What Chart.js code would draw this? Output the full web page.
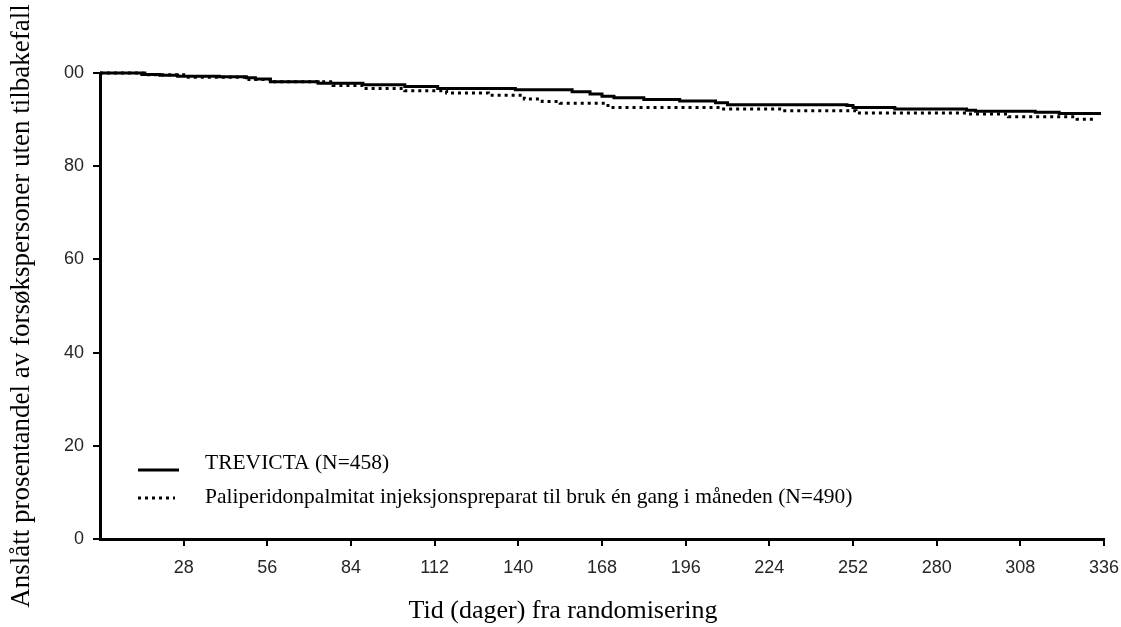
<!DOCTYPE html>
<html lang="no">
<head>
  <meta charset="UTF-8">
  <title>Tid til tilbakefall</title>
  <script src="https://cdn.jsdelivr.net/npm/chart.js"></script>
  <style>
    body { margin: 0; background: #fff; }
    canvas { display: block; }
  </style>
</head>
<body>
  <canvas id="kmChart" width="1121" height="627"></canvas>
  <script>
    // Serier (Kaplan-Meier, lest av figuren)
    const seriesLabels = [
      "TREVICTA (N=458)",
      "Paliperidonpalmitat injeksjonspreparat til bruk én gang i måneden (N=490)"
    ];

    const trevictaDays = [0, 14, 20, 26, 40, 49, 52, 57, 73, 88, 102, 113, 139, 158, 164, 168, 172, 182, 194, 206, 210, 250, 252, 266, 290, 293, 313, 321, 335];
    const trevictaPct  = [100, 99.7, 99.5, 99.3, 99.2, 99.0, 98.7, 98.1, 97.8, 97.5, 97.1, 96.7, 96.4, 96.0, 95.5, 95.0, 94.7, 94.3, 94.0, 93.6, 93.2, 93.0, 92.6, 92.3, 92.0, 91.8, 91.6, 91.3, 91.3];

    const paliDays = [0, 15, 28, 49, 57, 78, 88, 102, 116, 130, 142, 148, 154, 170, 208, 228, 253, 290, 304, 327, 333];
    const paliPct  = [100, 99.6, 99.1, 98.6, 98.1, 97.3, 96.7, 96.2, 95.7, 95.2, 94.4, 93.9, 93.5, 92.6, 92.3, 91.9, 91.4, 91.2, 90.6, 90.1, 90.0];

    const xTicks = [28, 56, 84, 112, 140, 168, 196, 224, 252, 280, 308, 336];
    const yTickLabels = { 0: "0", 20: "20", 40: "40", 60: "60", 80: "80", 100: "00" };

    const xTitle = "Tid (dager) fra randomisering";
    const yTitle = "Anslått prosentandel av forsøkspersoner uten tilbakefall";

    const serif = "'Liberation Serif', 'Times New Roman', serif";
    const sans = "'Liberation Sans', Arial, sans-serif";

    // titler og legende tegnes for hånd
    const decor = {
      id: 'decor',
      afterDraw(chart) {
        const ctx = chart.ctx;
        ctx.save();
        ctx.fillStyle = '#000';
        ctx.font = '26px ' + serif;
        ctx.textAlign = 'center';
        ctx.textBaseline = 'alphabetic';
        ctx.fillText(xTitle, 563, 618);

        ctx.font = '27px ' + serif;
        ctx.translate(29, 306);
        ctx.rotate(-Math.PI / 2);
        ctx.fillText(yTitle, 0, 0);
        ctx.restore();

        ctx.save();
        ctx.font = '21.5px ' + serif;
        ctx.textAlign = 'left';
        ctx.textBaseline = 'alphabetic';
        const rows = [{ y: 470, text: 469, len: 41 }, { y: 498, text: 503, len: 37 }];
        chart.data.datasets.forEach((ds, i) => {
          const r = rows[i];
          ctx.strokeStyle = ds.borderColor;
          ctx.lineWidth = ds.borderWidth;
          ctx.setLineDash(ds.borderDash || []);
          ctx.beginPath();
          ctx.moveTo(138, r.y);
          ctx.lineTo(138 + r.len, r.y);
          ctx.stroke();
          ctx.setLineDash([]);
          ctx.fillStyle = '#000';
          ctx.fillText(ds.label, 205, r.text);
        });
        ctx.restore();
      }
    };

    const ctx = document.getElementById('kmChart').getContext('2d');
    new Chart(ctx, {
      type: 'line',
      data: {
        datasets: [{
          label: seriesLabels[0],
          data: trevictaDays.map((d, i) => ({ x: d, y: trevictaPct[i] })),
          borderColor: '#000',
          borderWidth: 3,
          stepped: 'before',
          pointRadius: 0,
          fill: false,
          clip: false
        }, {
          label: seriesLabels[1],
          data: paliDays.map((d, i) => ({ x: d, y: paliPct[i] })),
          borderColor: '#000',
          borderWidth: 3,
          borderDash: [3, 4],
          stepped: 'before',
          pointRadius: 0,
          fill: false,
          clip: false
        }]
      },
      options: {
        responsive: false,
        animation: false,
        layout: { padding: { top: 73, right: 17, left: 0, bottom: 0 } },
        plugins: {
          legend: { display: false },
          tooltip: { enabled: false }
        },
        scales: {
          x: {
            type: 'linear',
            min: 0,
            max: 336,
            afterFit: (s) => { s.height = 88; s.paddingLeft = 0; s.paddingRight = 0; },
            afterBuildTicks: (s) => { s.ticks = xTicks.map(v => ({ value: v })); },
            border: { display: true, color: '#000', width: 3 },
            grid: { drawOnChartArea: false, drawTicks: true, tickLength: 7, color: '#000', lineWidth: 2 },
            ticks: {
              color: '#262626',
              font: { family: sans, size: 18 },
              padding: 11,
              maxRotation: 0,
              autoSkip: false
            }
          },
          y: {
            min: 0,
            max: 100,
            afterFit: (s) => { s.width = 100; s.paddingTop = 0; s.paddingBottom = 0; },
            border: { display: true, color: '#000', width: 3 },
            grid: { drawOnChartArea: false, drawTicks: true, tickLength: 7, color: '#000', lineWidth: 2 },
            ticks: {
              stepSize: 20,
              color: '#262626',
              font: { family: sans, size: 18 },
              padding: 9,
              callback: (v) => yTickLabels[v]
            }
          }
        }
      },
      plugins: [decor]
    });
  </script>
</body>
</html>
